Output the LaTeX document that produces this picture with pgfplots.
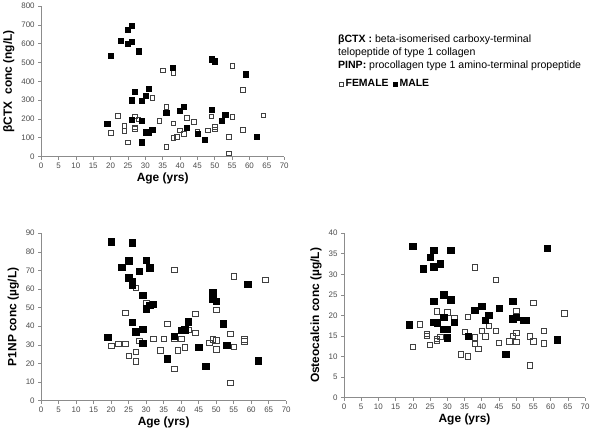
\documentclass[border=0pt]{standalone}
\usepackage{pgfplots}
\pgfplotsset{compat=1.18}
\usepackage{fontspec}
\setmainfont{Liberation Sans}
\definecolor{axgray}{gray}{0.55}
\definecolor{lblgray}{gray}{0.3}
\pgfplotsset{
  panel/.style={
    scale only axis, anchor=south west,
    axis lines=left, axis line style={-, draw=axgray, line width=0.6pt},
    tick align=outside, tick style={draw=axgray, line width=0.6pt}, major tick length=3pt,
    xmin=0, xmax=70, xtick={0,5,...,70},
    tick label style={font=\fontsize{8}{9}\selectfont, color=lblgray},
    label style={font=\bfseries\fontsize{12}{13}\selectfont},
    /pgf/number format/assume math mode=true,
    xlabel={Age (yrs)}, clip=false,
    xlabel style={yshift=3pt},
  },
  fem/.style={only marks, mark=square, mark size=2.7pt, mark options={draw=black!75, fill=white, line width=0.6pt}},
  mal/.style={only marks, mark=square*, mark size=3.2pt, mark options={draw=black, fill=black}},
}
\begin{document}
\begin{tikzpicture}
\path (0pt,0pt) rectangle (600pt,435pt);
% Panel 1: beta CTX
\begin{axis}[panel, at={(39pt,279pt)}, width=244pt, height=151pt,
  ymin=0, ymax=800, ytick={0,100,...,800},
  ylabel={βCTX\ \ conc (ng/L)},
  legend style={at={(1.215,0.483)}, anchor=west, draw=none, fill=none,
    font=\bfseries\fontsize{10.5}{11}\selectfont, legend columns=2,
    /tikz/every even column/.append style={column sep=3pt},
    /tikz/every odd column/.append style={column sep=0pt}},
  legend image code/.code={\draw[#1, mark size=2pt] plot coordinates {(0.1cm,0cm)};},
]
\addplot[fem, mark size=2.3pt] coordinates {
(20,125)(22,216)(24,138)(24,164)(25,76)(27,214)(27,155)(27,147)(28,198)(32,311)(34,191)(35,459)(36,265)(36,53)(38,445)(38,177)(38,99)(39,106)(40,140)(41,120)(42,207)(44,186)(45,134)(48,140)(49,214)(50,145)(50,159)(55,484)(54,106)(54,18)(55,212)(58,355)(58,143)(64,219)};
\addlegendentry{FEMALE}
\addplot[mal, mark size=2.6pt] coordinates {
(19,173)(20,535)(23,618)(25,675)(26,696)(25,599)(26,609)(28,560)(27,346)(26,300)(26,198)(29,297)(29,191)(29,76)(30,325)(31,359)(30,129)(31,125)(32,141)(36,235)(38,472)(40,242)(41,265)(42,152)(45,120)(47,90)(49,251)(49,518)(50,507)(52,189)(53,221)(59,438)(62,106)};
\addlegendentry{MALE}
\node[anchor=north west, font=\fontsize{10.6}{13}\selectfont, align=left, inner sep=0pt] at (rel axis cs:1.221,0.81) {\textbf{βCTX :} beta-isomerised carboxy-terminal\\telopeptide of type 1 collagen\\\textbf{PINP:} procollagen type 1 amino-terminal propeptide};
\end{axis}
% Panel 2: P1NP
\begin{axis}[panel, at={(39pt,34pt)}, width=246pt, height=168pt,
  ymin=0, ymax=90, ytick={0,10,...,90},
  ylabel={P1NP conc (µg/L)},
]
\addplot[fem] coordinates {
(20,29.5)(22,30.7)(24,47.3)(24,30.7)(25,24.1)(27,60.5)(27,26.1)(27,21.1)(28,32)(30,52.3)(32,33.4)(34,27.1)(35,33.4)(36,41.4)(38,70.5)(38,33.6)(38,17.1)(39,27.1)(40,33.4)(41,28.6)(42,38.2)(44,46.8)(44,36.3)(48,31)(49,32.9)(50,48.9)(50,32.5)(50,27.5)(54,36)(54,9.5)(55,66.8)(55,28.8)(58,32.9)(58,31.8)(64,65)};
\addplot[mal] coordinates {
(19,34.1)(20,85.4)(23,71.6)(25,75.2)(25,66.1)(26,85)(26,64)(26,62.3)(26,42.3)(27,37.1)(28,69.5)(29,56.6)(29,38.4)(29,31)(30,75.4)(30,49.5)(31,71.4)(31,51.4)(32,51.8)(36,22.5)(38,34.6)(40,37.7)(41,38.2)(42,42.5)(45,28.6)(47,18.6)(49,58.2)(49,54.6)(50,53.4)(52,41.4)(53,29.8)(59,62.5)(62,21.4)};
\end{axis}
% Panel 3: Osteocalcin
\begin{axis}[panel, at={(343pt,37pt)}, width=242pt, height=165pt,
  ymin=0, ymax=40, ytick={0,5,...,40},
  ylabel={Osteocalcin conc (µg/L)},
]
\addplot[fem] coordinates {
(20,12.4)(22,17.8)(24,15.5)(24,15.0)(25,12.8)(27,21)(27,14.3)(27,13.8)(28,14.8)(30,20.8)(32,19.4)(34,10.5)(35,16)(36,19.6)(36,10.1)(38,31.7)(38,14.7)(38,13.1)(39,11.9)(40,16.3)(41,14.9)(42,17.5)(44,28.7)(44,16.2)(45,13.3)(48,13.7)(49,15.1)(50,21.2)(50,15.8)(50,13.6)(54,14.9)(54,7.9)(55,23)(55,13.7)(58,16.3)(58,13.2)(64,20.5)};
\addplot[mal] coordinates {
(19,17.7)(20,36.9)(23,31.4)(25,34.2)(26,35.8)(26,31.9)(26,23.5)(26,18.4)(27,18.2)(28,32.6)(29,25)(29,19.5)(29,16.6)(30,16.7)(30,14.6)(31,35.8)(31,23.8)(32,18.3)(36,15)(38,21.3)(40,22.3)(41,18.8)(42,20.1)(45,21.7)(47,10.6)(49,23.5)(49,19.2)(50,19.6)(52,18.8)(53,18.9)(59,36.4)(62,14.1)};
\end{axis}
\end{tikzpicture}
\end{document}
